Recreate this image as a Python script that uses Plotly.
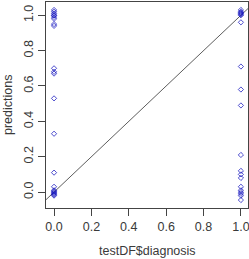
import plotly.graph_objects as go

x0_vals = [0]*17
y0_vals = [1.03, 1.02, 1.01, 1.0, 1.0, 0.99, 0.98, 0.95, 0.94, 0.70, 0.68, 0.67, 0.53, 0.33, 0.11, 0.03, 0.01]
x0_low = [0]*6
y0_low = [0.005, 0.0, -0.005, -0.01, -0.015, -0.02]
x1_vals = [1]*18
y1_vals = [1.03, 1.02, 1.015, 1.01, 1.005, 1.0, 0.96, 0.71, 0.58, 0.49, 0.21, 0.12, 0.10, 0.08, 0.03, 0.01, 0.0, -0.01]
x1_low = [1, 1]
y1_low = [-0.02, -0.045]

xs = x0_vals + x0_low + x1_vals + x1_low
ys = y0_vals + y0_low + y1_vals + y1_low

xr = [-0.043, 1.038]
yr = [-0.09, 1.075]

fig = go.Figure()
fig.add_trace(go.Scatter(x=xr, y=xr, mode="lines",
                         line=dict(color="#333333", width=0.8), hoverinfo="skip"))
fig.add_trace(go.Scatter(x=xs, y=ys, mode="markers",
                         marker=dict(symbol="diamond-open", size=4,
                                     color="rgba(20,20,190,0.75)",
                                     line=dict(width=1))))

font = dict(family="Liberation Sans, Arial, sans-serif", size=12.5, color="#3a3a3a")
fig.update_layout(
    width=249, height=259,
    margin=dict(l=46, r=1, t=2, b=51),
    paper_bgcolor="white", plot_bgcolor="white",
    showlegend=False,
    font=font,
    xaxis=dict(range=xr, showgrid=False, zeroline=False,
               showline=True, linecolor="#444444", linewidth=1, mirror=True,
               ticks="outside", ticklen=7, tickcolor="#444444",
               tickvals=[0, 0.2, 0.4, 0.6, 0.8, 1.0],
               ticktext=["0.0", "0.2", "0.4", "0.6", "0.8", "1.0"],
               ticklabeloverflow="allow", automargin=False),
    yaxis=dict(range=yr, showgrid=False, zeroline=False,
               showline=True, linecolor="#444444", linewidth=1, mirror=True,
               ticks="outside", ticklen=7, tickcolor="#444444",
               tickvals=[0, 0.2, 0.4, 0.6, 0.8, 1.0],
               ticktext=["0.0", "0.2", "0.4", "0.6", "0.8", "1.0"],
               tickangle=-90, ticklabeloverflow="allow", automargin=False),
    annotations=[
        dict(text="testDF$diagnosis", xref="paper", yref="paper", x=0.5, y=0,
             xanchor="center", yanchor="middle", yshift=-43, showarrow=False, font=font),
        dict(text="predictions", xref="paper", yref="paper", x=0, y=0.5,
             xanchor="center", yanchor="middle", xshift=-38, textangle=-90,
             showarrow=False, font=font),
    ],
)
fig.write_html("out.html")
